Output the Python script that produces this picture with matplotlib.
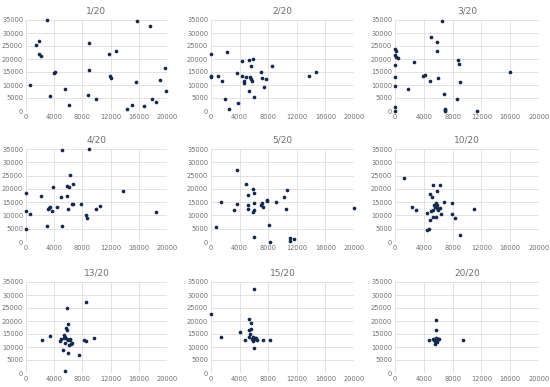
import matplotlib
matplotlib.use("Agg")
import matplotlib.pyplot as plt

titles = ["1/20", "2/20", "3/20", "4/20", "5/20", "10/20", "13/20", "15/20", "20/20"]

x1 = [600, 2940, 1420, 1850, 1900, 2130, 3400, 3980, 4120, 5550, 6070, 8770, 9000, 8900, 9900,
      11800, 11850, 12090, 12800, 14300, 15100, 15540, 15730, 16680, 17580, 17900, 18440, 18960, 19670, 19900]
y1 = [9900, 35000, 25400, 27050, 21900, 21150, 5900, 14740, 15100, 8600, 2200, 6000, 26000, 15770, 4600,
      21800, 13460, 12800, 22950, 640, 2300, 11000, 34740, 1920, 32800, 4740, 3460, 12050, 16400, 7800]

x2 = [0, 0, 50, 980, 1530, 1950, 2280, 2510, 3720, 3670, 4370, 4370, 4560, 4650, 4840,
      5300, 5260, 5490, 5530, 5580, 5670, 5860, 6050, 7020, 7120, 7400, 7720, 8560, 13720, 14650]
y2 = [21800, 13330, 13080, 13330, 11540, 4490, 22690, 900, 3080, 14620, 19360, 13460, 11670, 10770, 13080,
      19490, 7560, 13080, 12180, 17440, 11410, 19870, 5260, 15000, 12690, 9100, 12300, 17440, 13590, 14870]

x3 = [0, 90, 0, 90, 420, 50, 50, 50, 50, 50, 1800, 2640, 3840, 4170, 4910,
      5000, 5830, 5830, 5930, 6530, 6800, 6990, 6990, 6940, 8610, 8700, 8840, 9070, 11340, 15970]
y3 = [23700, 23080, 21540, 20900, 20260, 17700, 13200, 9600, 1670, 0, 8330, 18850, 13460, 13970, 11410,
      28460, 26400, 23080, 12820, 34490, 6540, 900, 380, 0, 4620, 19620, 18080, 11280, 0, 14870]

x4 = [0, 0, 0, 600, 2190, 3020, 3070, 3300, 3400, 3670, 3770, 4330, 4980, 5120, 5160, 5810,
      5860, 5950, 6140, 6280, 6560, 6700, 6700, 7860, 8470, 8600, 8980, 9910, 10560, 13770, 18420]
y4 = [18330, 11630, 4930, 10370, 17190, 5940, 12390, 12890, 13270, 11760, 20600, 13270, 16810, 34490, 6070, 20980,
      17440, 12260, 20730, 25030, 14280, 14280, 21870, 14280, 10110, 8850, 35000, 12510, 13400, 19080, 11250]

x5 = [650, 1340, 3230, 3600, 3700, 4940, 5130, 5130, 5220, 5820, 6000, 5820, 5960, 6050, 5960,
      7020, 7160, 7300, 7900, 7900, 8080, 8270, 9100, 10250, 10490, 10670, 11000, 11040, 11590, 20000]
y5 = [5600, 15150, 12090, 14130, 27110, 21640, 13870, 12470, 17820, 20110, 18460, 11450, 11960, 14510, 2030,
      13740, 14510, 13230, 15400, 15910, 6490, 0, 14890, 16930, 12600, 19730, 1400, 250, 1150, 12980]

x6 = [1250, 2400, 2910, 4390, 4430, 4670, 4900, 4900, 4940, 5130, 5220, 5220, 5310, 5400, 5590,
      5680, 5680, 5820, 5770, 5820, 5960, 6190, 6280, 6420, 6790, 7850, 7850, 8360, 9010, 10950]
y6 = [24180, 13230, 11960, 10810, 4330, 4840, 18080, 8150, 11700, 16800, 21270, 9550, 12220, 13740, 13230,
      14510, 9420, 19350, 14000, 12980, 12220, 21270, 12730, 10690, 15150, 14760, 10690, 9160, 2550, 12350]

x7 = [2310, 3380, 4770, 5000, 5190, 5370, 5460, 5510, 5600, 5600, 5650, 5790, 5880, 5880,
      5930, 5930, 6020, 6110, 6200, 6300, 6340, 6570, 7450, 8190, 8470, 8560, 9680]
y7 = [12820, 14230, 12180, 13200, 8970, 13590, 14610, 11410, 13970, 640, 17310, 25130, 16670, 13200,
      18850, 7690, 12560, 10900, 12820, 13200, 11150, 11410, 7050, 12690, 27310, 12310, 13460]

x8 = [0, 1340, 4110, 4760, 5310, 5360, 5310, 5400, 5540, 5590, 5680, 5870, 5910, 5960, 5960,
      6100, 6190, 6330, 6380, 7300, 8310]
y8 = [22560, 13970, 15640, 12560, 20770, 16670, 13720, 14870, 17050, 19230, 12950, 13720, 12180, 32180, 9490,
      13330, 12950, 13460, 12690, 12690, 12820]

x9 = [4760, 5220, 5450, 5540, 5590, 5680, 5680, 5730, 5730, 5820, 5910, 6000, 6100, 9470]
y9 = [12690, 13200, 12560, 11150, 12180, 20510, 16540, 12950, 13590, 12050, 13200, 13200, 12950, 12690]

xs = [x1, x2, x3, x4, x5, x6, x7, x8, x9]
ys = [y1, y2, y3, y4, y5, y6, y7, y8, y9]

# axes boxes in pixels: left, width per column; top, bottom per row
col_px = [(26, 141), (211, 143), (395, 144)]
row_px = [(20, 111), (149, 242), (282, 373)]
W, H = 550, 387

fig = plt.figure(figsize=(5.5, 3.87), dpi=100)
for i in range(9):
    r, c = divmod(i, 3)
    left, width = col_px[c]
    top, bottom = row_px[r]
    ax = fig.add_axes([left / W, 1 - bottom / H, width / W, (bottom - top) / H])
    ax.scatter(xs[i], ys[i], s=7, color="#122a4e", linewidths=0, zorder=3, clip_on=False)
    ax.set_xlim(0, 20000)
    ax.set_ylim(0, 35000)
    ax.set_xticks(range(0, 20001, 4000))
    ax.set_yticks(range(0, 35001, 5000))
    ax.grid(True, color="#dedede", linewidth=0.6)
    ax.set_axisbelow(True)
    for s in ax.spines.values():
        s.set_visible(False)
    ax.tick_params(length=0, labelsize=4.8, colors="#707070", pad=2)
    ax.set_title(titles[i], fontsize=6.5, color="#707070", pad=5)

fig.savefig("out.png", dpi=100)
